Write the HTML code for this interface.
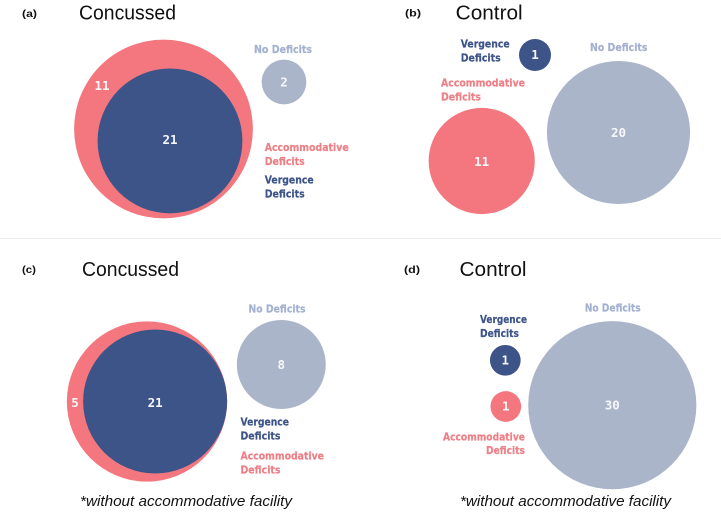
<!DOCTYPE html>
<html lang="en">
<head>
<meta charset="utf-8">
<title>Deficit Overlap in Concussed and Control Groups</title>
<style>
  html, body { margin: 0; padding: 0; background: #fff; }
  body { width: 721px; height: 516px; overflow: hidden; }
  svg { display: block; filter: blur(0.35px); }
  .panel-letter { font: bold 10.5px "Liberation Sans", sans-serif; fill: #111; }
  .title { font: 20px "Liberation Sans", sans-serif; fill: #111; }
  .note { font: italic 15px "Liberation Sans", sans-serif; fill: #111; }
  .lab { font: bold 10.5px "DejaVu Sans", sans-serif; stroke-width: 0.2px; }
  .navy { fill: #3d5488; stroke: #3d5488; }
  .pink { fill: #ee7f86; stroke: #ee7f86; }
  .grey { fill: #a3b1d0; stroke: #a3b1d0; }
  .val { font: bold 12.5px "DejaVu Sans Mono", monospace; fill: #f6f7fa; text-anchor: middle; }
</style>
</head>
<body>
<svg id="chart" xmlns="http://www.w3.org/2000/svg" width="721" height="516" viewBox="0 0 721 516">
  <rect width="721" height="516" fill="#ffffff"/>
  <line x1="0" y1="238.5" x2="721" y2="238.5" stroke="#eeeeee" stroke-width="1"/>
  <g id="marks"></g>

  <text class="panel-letter" x="22" y="17" textLength="15" lengthAdjust="spacingAndGlyphs">(a)</text>
  <text class="title" x="79" y="19.5" textLength="97" lengthAdjust="spacingAndGlyphs">Concussed</text>
  <text class="lab grey" x="254" y="53" textLength="58" lengthAdjust="spacingAndGlyphs">No Deficits</text>
  <text class="lab pink" x="264.7" y="151" textLength="84" lengthAdjust="spacingAndGlyphs">Accommodative</text>
  <text class="lab pink" x="264.7" y="165" textLength="40" lengthAdjust="spacingAndGlyphs">Deficits</text>
  <text class="lab navy" x="264.7" y="183.5" textLength="49" lengthAdjust="spacingAndGlyphs">Vergence</text>
  <text class="lab navy" x="264.7" y="197.7" textLength="40" lengthAdjust="spacingAndGlyphs">Deficits</text>

  <text class="panel-letter" x="405" y="16.5" textLength="16" lengthAdjust="spacingAndGlyphs">(b)</text>
  <text class="title" x="455.7" y="19.5" textLength="67" lengthAdjust="spacingAndGlyphs">Control</text>
  <text class="lab navy" x="460.7" y="47.7" textLength="49" lengthAdjust="spacingAndGlyphs">Vergence</text>
  <text class="lab navy" x="460.7" y="61.7" textLength="40" lengthAdjust="spacingAndGlyphs">Deficits</text>
  <text class="lab pink" x="441" y="86.7" textLength="84" lengthAdjust="spacingAndGlyphs">Accommodative</text>
  <text class="lab pink" x="441" y="100.7" textLength="40" lengthAdjust="spacingAndGlyphs">Deficits</text>
  <text class="lab grey" x="590" y="51" textLength="57.5" lengthAdjust="spacingAndGlyphs">No Deficits</text>

  <text class="panel-letter" x="22" y="273" textLength="14" lengthAdjust="spacingAndGlyphs">(c)</text>
  <text class="title" x="82" y="276" textLength="97" lengthAdjust="spacingAndGlyphs">Concussed</text>
  <text class="lab grey" x="248.5" y="312.3" textLength="57" lengthAdjust="spacingAndGlyphs">No Deficits</text>
  <text class="lab navy" x="240.5" y="425.7" textLength="48.5" lengthAdjust="spacingAndGlyphs">Vergence</text>
  <text class="lab navy" x="240.5" y="439.7" textLength="40" lengthAdjust="spacingAndGlyphs">Deficits</text>
  <text class="lab pink" x="240.5" y="459.3" textLength="83.5" lengthAdjust="spacingAndGlyphs">Accommodative</text>
  <text class="lab pink" x="240.5" y="473.5" textLength="40" lengthAdjust="spacingAndGlyphs">Deficits</text>
  <text class="note" x="80" y="506" textLength="212" lengthAdjust="spacingAndGlyphs">*without accommodative facility</text>

  <text class="panel-letter" x="404" y="273" textLength="16" lengthAdjust="spacingAndGlyphs">(d)</text>
  <text class="title" x="459.5" y="276" textLength="67" lengthAdjust="spacingAndGlyphs">Control</text>
  <text class="lab grey" x="584.7" y="311.3" textLength="56" lengthAdjust="spacingAndGlyphs">No Deficits</text>
  <text class="lab navy" x="480" y="323" textLength="47" lengthAdjust="spacingAndGlyphs">Vergence</text>
  <text class="lab navy" x="480" y="337" textLength="39" lengthAdjust="spacingAndGlyphs">Deficits</text>
  <text class="lab pink" x="443" y="440.3" textLength="82" lengthAdjust="spacingAndGlyphs">Accommodative</text>
  <text class="lab pink" x="486" y="454" textLength="39" lengthAdjust="spacingAndGlyphs">Deficits</text>
  <text class="note" x="460" y="506" textLength="211" lengthAdjust="spacingAndGlyphs">*without accommodative facility</text>
</svg>

<script>
// Data: participant counts per panel (a, b, c, d)
const panels = ['a', 'b', 'c', 'd'];
const accommodativeOnly = [11, 11, 5, 1];
const vergenceCounts = [21, 1, 21, 1];
const noDeficitCounts = [2, 20, 8, 30];
const vergenceNested = [true, false, true, false];

// Layout: where each panel's bubbles are anchored
const layout = {
  a: { k: 15.8, acc: { x: 163.5, y: 129 }, nest: { dx: 0.478, dy: 0.878, f: 0.8 }, none: { x: 284, y: 82 }, accText: { x: 102, y: 90 }, verText: { x: 0, y: -1 } },
  b: { k: 16, acc: { x: 481.7, y: 161 }, ver: { x: 535, y: 55 }, none: { x: 618.5, y: 132.5 }, accText: { x: 481.7, y: 166 }, verText: { x: 0, y: 0 } },
  c: { k: 15.72, acc: { x: 147, y: 401.5 }, nest: { dx: 1, dy: 0, f: 1 }, none: { x: 281.3, y: 364.5 }, accText: { x: 75, y: 407 }, verText: { x: 0, y: 1.5 } },
  d: { k: 15.35, acc: { x: 505.8, y: 406.5 }, ver: { x: 505.3, y: 360.3 }, none: { x: 612.3, y: 405.2 }, accText: { x: 505.8, y: 410.5 }, verText: { x: 0, y: 0 } }
};

const fills = { accommodative: '#f4777f', vergence: '#3d5488', none: '#abb5ca' };
const SVG_NS = 'http://www.w3.org/2000/svg';
const marks = document.getElementById('marks');

function radiusScale(value, k) {
  return k * Math.sqrt(value);
}

function drawCircle(panel, kind, cx, cy, r) {
  const c = document.createElementNS(SVG_NS, 'circle');
  c.setAttribute('cx', cx);
  c.setAttribute('cy', cy);
  c.setAttribute('r', r);
  c.setAttribute('fill', fills[kind]);
  
  
  marks.appendChild(c);
}

function drawValue(panel, kind, x, y, value) {
  const t = document.createElementNS(SVG_NS, 'text');
  t.setAttribute('class', 'val');
  t.setAttribute('x', x);
  t.setAttribute('y', y);
  t.textContent = value;
  
  
  marks.appendChild(t);
}

panels.forEach(function (panel, i) {
  const L = layout[panel];
  const nested = vergenceNested[i];
  const accValue = accommodativeOnly[i];
  const verValue = vergenceCounts[i];
  const noneValue = noDeficitCounts[i];

  // When vergence is nested, the outer circle holds both groups
  const accR = radiusScale(nested ? accValue + verValue : accValue, L.k);
  const verR = radiusScale(verValue, L.k);
  const noneR = radiusScale(noneValue, L.k);

  let verX, verY;
  if (nested) {
    const gap = (accR - verR) * L.nest.f;
    verX = L.acc.x + L.nest.dx * gap;
    verY = L.acc.y + L.nest.dy * gap;
  } else {
    verX = L.ver.x;
    verY = L.ver.y;
  }

  drawCircle(panel, 'accommodative', L.acc.x, L.acc.y, accR);
  drawCircle(panel, 'vergence', verX, verY, verR);
  drawCircle(panel, 'none', L.none.x, L.none.y, noneR);

  drawValue(panel, 'accommodative', L.accText.x, L.accText.y, accValue);
  drawValue(panel, 'vergence', verX + L.verText.x, verY + 4 + L.verText.y, verValue);
  drawValue(panel, 'none', L.none.x, L.none.y + 4.5, noneValue);
});
</script>
</body>
</html>
